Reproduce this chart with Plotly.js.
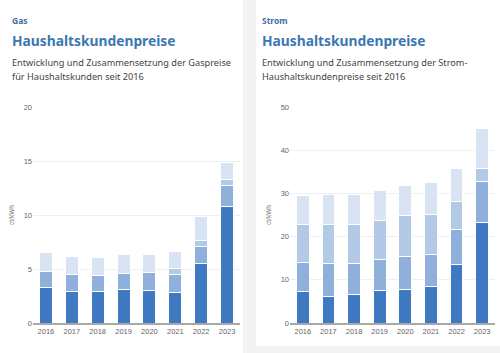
<!DOCTYPE html>
<html>
<head>
<meta charset="utf-8">
<script src="https://cdn.plot.ly/plotly-3.0.1.min.js"></script>
<style>html,body{margin:0;padding:0;background:#f3f3f3;}#chart{width:500px;height:353px;}</style>
</head>
<body>
<div id="chart"></div>
<script>
var years = ["2016","2017","2018","2019","2020","2021","2022","2023"];

// Gas (ct/kWh)
var gasBeschaffung = [3.26, 2.95, 2.89, 3.14, 3.04, 2.86, 5.47, 10.78];
var gasNetz        = [1.55, 1.55, 1.55, 1.49, 1.62, 1.64, 1.64, 1.95];
var gasCO2         = [0, 0, 0, 0, 0, 0.53, 0.56, 0.56];
var gasSteuern     = [1.71, 1.62, 1.58, 1.67, 1.64, 1.62, 2.23, 1.59];

// Strom (ct/kWh)
var stromBeschaffung = [7.33, 6.17, 6.71, 7.56, 7.87, 8.49, 13.43, 23.38];
var stromNetz        = [6.71, 7.49, 7.18, 7.25, 7.56, 7.41, 8.17, 9.49];
var stromUmlagen     = [8.80, 9.18, 8.95, 8.96, 9.42, 9.25, 6.56, 2.86];
var stromSteuern     = [6.71, 6.86, 6.86, 6.86, 7.09, 7.41, 7.72, 9.33];

var gasTicks = [0, 5, 10, 15, 20];
var stromTicks = [0, 10, 20, 30, 40, 50];

var c1 = "#3f79c1", c2 = "#8eb0da", c3 = "#b3cae7", c4 = "#d8e4f3";

function bar(y, color, xa, ya) {
  return {type: "bar", x: years, y: y, xaxis: xa, yaxis: ya, width: 0.5,
    marker: {color: color, line: {color: "#ffffff", width: 1}},
    showlegend: false, hoverinfo: "y"};
}

var data = [
  bar(gasBeschaffung, c1, "x", "y"),
  bar(gasNetz, c2, "x", "y"),
  bar(gasCO2, c3, "x", "y"),
  bar(gasSteuern, c4, "x", "y"),
  bar(stromBeschaffung, c1, "x2", "y2"),
  bar(stromNetz, c2, "x2", "y2"),
  bar(stromUmlagen, c3, "x2", "y2"),
  bar(stromSteuern, c4, "x2", "y2")
];

var fontFam = "Noto Sans, Open Sans, sans-serif";
var tickFont = {family: "Liberation Sans, Arial, sans-serif", size: 7.5, color: "#666"};

function xax(dom) {
  return {domain: dom, range: [-0.5, 7.5], type: "category", showgrid: false,
    showline: true, linecolor: "#a8a8a8", linewidth: 2, ticks: "", tickfont: tickFont,
    zeroline: false, fixedrange: true};
}
function yax(dom, max, ticks, anchor) {
  return {domain: dom, range: [0, max], tickvals: ticks, ticktext: ticks.map(String),
    showgrid: true, gridcolor: "#efefef", gridwidth: 1, zeroline: false, showline: false,
    tickfont: tickFont, ticks: "", ticklen: 0, anchor: anchor,
    title: {text: "ct/kWh", font: {family: "Liberation Sans, Arial, sans-serif", size: 6.5, color: "#777"}, standoff: 8}};
}

var yDom = [(353 - 323) / 353, (353 - 107) / 353];

function txt(t, x, y, size, color, bold) {
  return {text: bold ? "<b>" + t + "</b>" : t, x: x / 500, y: 1 - y / 353, xref: "paper", yref: "paper",
    xanchor: "left", yanchor: "middle", showarrow: false,
    font: {family: fontFam, size: size, color: color}};
}

var layout = {
  width: 500, height: 353,
  margin: {l: 0, r: 0, t: 0, b: 0},
  paper_bgcolor: "#f3f3f3",
  plot_bgcolor: "rgba(0,0,0,0)",
  barmode: "stack",
  bargap: 0.5,
  xaxis: xax([33 / 500, 240 / 500]),
  yaxis: yax(yDom, 20, gasTicks, "x"),
  xaxis2: Object.assign(xax([290 / 500, 495 / 500]), {anchor: "y2"}),
  yaxis2: yax(yDom, 50, stromTicks, "x2"),
  shapes: [
    {type: "rect", xref: "paper", yref: "paper", x0: 0, x1: 243 / 500, y0: 0, y1: 1,
      fillcolor: "#ffffff", line: {width: 0}, layer: "below"},
    {type: "rect", xref: "paper", yref: "paper", x0: 256 / 500, x1: 1, y0: 7 / 353, y1: 1,
      fillcolor: "#ffffff", line: {width: 0}, layer: "below"}
  ],
  annotations: [
    txt("Gas", 10, 20, 8.5, "#3d70a3", true),
    txt("Haushaltskundenpreise", 10, 40, 13.8, "#3b78b2", true),
    txt("Entwicklung und Zusammensetzung der Gaspreise", 10, 62, 9.2, "#444", false),
    txt("für Haushaltskunden seit 2016", 10, 77, 9.2, "#444", false),
    txt("Strom", 260, 20, 8.5, "#3d70a3", true),
    txt("Haushaltskundenpreise", 260, 40, 13.8, "#3b78b2", true),
    txt("Entwicklung und Zusammensetzung der Strom-", 260, 62, 9.2, "#444", false),
    txt("Haushaltskundenpreise seit 2016", 260, 77, 9.2, "#444", false)
  ]
};

Plotly.newPlot("chart", data, layout, {displayModeBar: false, staticPlot: true});
</script>
</body>
</html>
